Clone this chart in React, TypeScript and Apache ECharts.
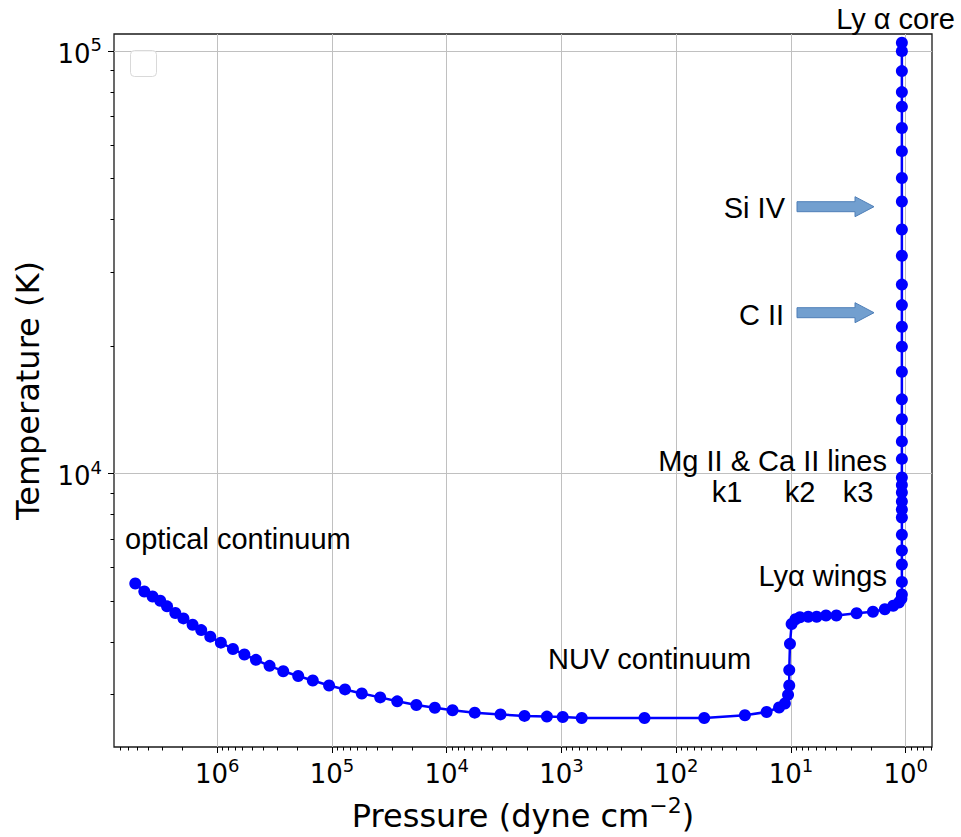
import React, { useEffect, useRef } from 'react';
import * as echarts from 'echarts';

// Pressure (dyne cm^-2) and temperature (K)
const pressure = [
  5.18e6, 4.32e6, 3.66e6, 3.14e6, 2.74e6, 2.32e6, 1.97e6, 1.64e6, 1.38e6, 1.15e6,
  9.3e5, 7.3e5, 5.8e5, 4.6e5, 3.5e5, 2.66e5, 1.97e5, 1.47e5, 1.06e5, 7.7e4,
  5.5e4, 3.8e4, 2.7e4, 1.84e4, 1.27e4, 8.9e3, 5.7e3, 3.4e3, 2.1e3, 1.34e3,
  975, 666, 189, 57, 25.2, 16.3, 12.7, 11.3, 10.6, 10.35,
  10.35, 10.2, 9.87, 9.14, 8.35, 7.07, 5.97, 4.95, 4.02, 2.68,
  1.93, 1.52, 1.285, 1.146, 1.09,
  1.08, 1.08, 1.08, 1.08, 1.08, 1.08, 1.08, 1.08, 1.08, 1.08,
  1.08, 1.08, 1.08, 1.08, 1.08, 1.08, 1.08, 1.08, 1.08, 1.08,
  1.08, 1.08, 1.08, 1.08, 1.08, 1.08, 1.08, 1.08, 1.08, 1.08, 1.08,
];
const temperature = [
  5495, 5262, 5117, 5000, 4851, 4677, 4543, 4388, 4262, 4113,
  3981, 3845, 3731, 3624, 3508, 3407, 3318, 3238, 3152, 3085,
  3018, 2954, 2891, 2834, 2792, 2753, 2718, 2692, 2670, 2660,
  2655, 2640, 2640, 2640, 2679, 2728, 2795, 2856, 2995, 3152,
  3428, 3955, 4408, 4523, 4570, 4585, 4585, 4616, 4616, 4671,
  4712, 4776, 4866, 4955, 5060,
  5176, 5543, 6095, 6577, 7169, 7870, 8222, 8589, 9020, 9405,
  9793, 10835, 11920, 13450, 14990, 17430, 19980, 22270, 25060, 28020,
  32790, 37840, 44060, 50100, 57980, 65800, 73900, 80000, 89700, 100000, 104700,
];

// Axis ranges and tick positions
const X_MIN = 0.59;
const X_MAX = 7.94e6;
const Y_MIN = 2254;
const Y_MAX = 109800;
const X_MAJOR_EXPONENTS = [0, 1, 2, 3, 4, 5, 6];
const Y_MAJOR_EXPONENTS = [4, 5];
const X_MINOR_DECADES = [-1, 0, 1, 2, 3, 4, 5, 6];
const Y_MINOR_DECADES = [3, 4];
const MINOR_MULTIPLIERS = [2, 3, 4, 5, 6, 7, 8, 9];

const X_TITLE = 'Pressure (dyne cm';
const X_TITLE_SUP = '\u22122';
const Y_TITLE = 'Temperature (K)';

const annotations = [
  { text: 'Ly \u03b1 core', x: 955, y: 19, align: 'right' },
  { text: 'Si IV', x: 785, y: 208, align: 'right' },
  { text: 'C II', x: 784, y: 315, align: 'right' },
  { text: 'Mg II & Ca II lines', x: 887, y: 461, align: 'right' },
  { text: 'k1', x: 727, y: 492, align: 'center' },
  { text: 'k2', x: 800, y: 492, align: 'center' },
  { text: 'k3', x: 858, y: 492, align: 'center' },
  { text: 'Ly\u03b1 wings', x: 887, y: 576, align: 'right' },
  { text: 'NUV continuum', x: 548, y: 659, align: 'left' },
  { text: 'optical continuum', x: 125, y: 539, align: 'left' },
];
const arrowCenters = [206.7, 312.7];

function minorTicks(decades: number[], lo: number, hi: number) {
  const out: number[] = [];
  decades.forEach((d) => {
    MINOR_MULTIPLIERS.forEach((m) => {
      const v = Math.log10(m) + d;
      if (v >= lo && v <= hi) out.push(v);
    });
  });
  return out;
}

const tickRich = {
  b: { fontFamily: 'DejaVu Sans', fontSize: 26, color: '#000', verticalAlign: 'bottom', lineHeight: 31 },
  s: { fontFamily: 'DejaVu Sans', fontSize: 18, color: '#000', verticalAlign: 'top', lineHeight: 18 },
};

function supLabel(v: number) {
  const e = Math.log10(v);
  const r = Math.round(e);
  if (Math.abs(e - r) > 1e-6) return '';
  return '{b|10}{s|' + r + '}';
}

function tickAxis(dim: 'x' | 'y', lo: number, hi: number, values: number[], len: number) {
  const base: any = {
    type: 'value',
    min: lo,
    max: hi,
    position: dim === 'x' ? 'bottom' : 'left',
    axisLine: { show: false, onZero: false },
    axisLabel: { show: false },
    splitLine: { show: false },
    axisTick: { show: true, customValues: values, length: len, lineStyle: { color: '#000', width: 1 } },
  };
  if (dim === 'x') base.inverse = true;
  return base;
}

export default function App() {
  const ref = useRef<HTMLDivElement>(null);
  useEffect(() => {
    const chart = echarts.init(ref.current!, null, { renderer: 'svg' });
    const xlo = Math.log10(X_MIN), xhi = Math.log10(X_MAX);
    const ylo = Math.log10(Y_MIN), yhi = Math.log10(Y_MAX);

    const graphic: any[] = [];
    graphic.push({
      type: 'rect',
      shape: { x: 130.5, y: 50.5, width: 26, height: 26, r: 4 },
      style: { fill: 'rgba(255,255,255,0.8)', stroke: '#d9d9d9', lineWidth: 1 },
      z: 10,
    });
    annotations.forEach((a) => {
      graphic.push({
        type: 'text',
        x: a.x,
        y: a.y,
        z: 10,
        style: {
          text: a.text,
          fill: '#000',
          fontSize: 29,
          fontFamily: 'Liberation Sans',
          textAlign: a.align,
          textVerticalAlign: 'middle',
          align: a.align,
          verticalAlign: 'middle',
        },
      });
    });
    arrowCenters.forEach((c) => {
      graphic.push({
        type: 'polygon',
        z: 10,
        shape: {
          points: [
            [797, c - 5], [855, c - 5], [855, c - 10], [874, c],
            [855, c + 10], [855, c + 5], [797, c + 5],
          ],
        },
        style: { fill: '#729fcf', stroke: '#4f7fb8', lineWidth: 1 },
      });
    });

    chart.setOption({
      animation: false,
      backgroundColor: '#fff',
      textStyle: { fontFamily: 'DejaVu Sans' },
      grid: {
        show: true,
        left: 114,
        top: 34,
        right: 29,
        bottom: 87,
        borderColor: '#1a1a1a',
        borderWidth: 1.3,
        backgroundColor: 'transparent',
      },
      xAxis: [
        {
          type: 'log',
          logBase: 10,
          min: X_MIN,
          max: X_MAX,
          inverse: true,
          position: 'bottom',
          axisLine: { show: false, onZero: false },
          axisTick: { show: false },
          splitLine: { show: true, showMinLine: false, showMaxLine: false, lineStyle: { color: '#c0c0c0', width: 1 } },
          axisLabel: { margin: 9, formatter: supLabel, rich: tickRich, showMinLabel: false, showMaxLabel: false },
          name: '{n|' + X_TITLE + '}{s|' + X_TITLE_SUP + '}{n|)}',
          nameLocation: 'middle',
          nameGap: 47,
          nameTextStyle: {
            rich: {
              n: { fontFamily: 'DejaVu Sans', fontSize: 32, color: '#000', verticalAlign: 'bottom', lineHeight: 38 },
              s: { fontFamily: 'DejaVu Sans', fontSize: 22, color: '#000', verticalAlign: 'top', lineHeight: 22 },
            },
          },
        },
        tickAxis('x', xlo, xhi, minorTicks(X_MINOR_DECADES, xlo, xhi), 3.5),
        tickAxis('x', xlo, xhi, X_MAJOR_EXPONENTS, 6),
      ],
      yAxis: [
        {
          type: 'log',
          logBase: 10,
          min: Y_MIN,
          max: Y_MAX,
          position: 'left',
          axisLine: { show: false, onZero: false },
          axisTick: { show: false },
          splitLine: { show: true, showMinLine: false, showMaxLine: false, lineStyle: { color: '#c0c0c0', width: 1 } },
          axisLabel: { margin: 12, formatter: supLabel, rich: tickRich, showMinLabel: false, showMaxLabel: false },
          name: Y_TITLE,
          nameLocation: 'middle',
          nameGap: 70,
          nameTextStyle: { fontFamily: 'DejaVu Sans', fontSize: 32, color: '#000' },
        },
        tickAxis('y', ylo, yhi, minorTicks(Y_MINOR_DECADES, ylo, yhi), 3.5),
        tickAxis('y', ylo, yhi, Y_MAJOR_EXPONENTS, 6),
      ],
      series: [
        {
          type: 'line',
          xAxisIndex: 0,
          yAxisIndex: 0,
          data: pressure.map((p, i) => [p, temperature[i]]),
          symbol: 'circle',
          symbolSize: 12,
          showAllSymbol: true,
          lineStyle: { color: '#0000ff', width: 2.5 },
          itemStyle: { color: '#0000ff' },
          z: 5,
        },
      ],
      graphic,
    });
    return () => chart.dispose();
  }, []);
  return <div ref={ref} style={{ position: 'absolute', left: 0, top: 0, width: 961, height: 837 }} />;
}
